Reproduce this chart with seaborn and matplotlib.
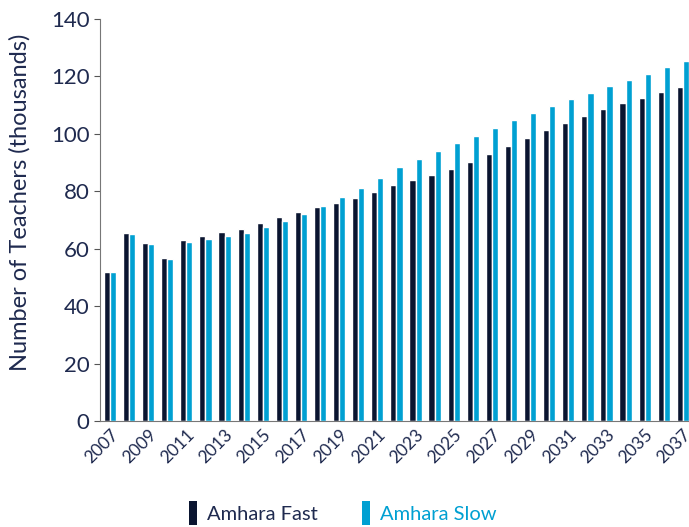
import matplotlib
matplotlib.use("Agg")
import matplotlib.pyplot as plt
import seaborn as sns
import pandas as pd
from matplotlib.patches import Patch

years = list(range(2007, 2038))
amhara_fast = [52.0, 65.4, 62.0, 56.8, 63.2, 64.4, 65.7, 66.9, 69.0, 71.1,
               72.8, 74.4, 75.9, 77.8, 79.9, 82.2, 83.8, 85.5, 87.7, 90.2,
               93.1, 95.9, 98.6, 101.4, 103.8, 106.2, 108.6, 110.7, 112.6, 114.6,
               116.3]
amhara_slow = [52.0, 65.1, 61.8, 56.3, 62.3, 63.5, 64.4, 65.4, 67.6, 69.8,
               72.1, 74.9, 77.9, 81.0, 84.6, 88.4, 91.2, 94.0, 96.7, 99.4,
               102.1, 104.7, 107.2, 109.7, 112.0, 114.4, 116.8, 118.9, 121.0, 123.3,
               125.4]
series_names = ["Amhara Fast", "Amhara Slow"]
colors = {"Amhara Fast": "#0a1530", "Amhara Slow": "#00a0d2"}
text_color = "#1f2a4f"

df = pd.DataFrame({
    "year": [str(y) for y in years] * 2,
    "teachers": amhara_fast + amhara_slow,
    "series": [series_names[0]] * len(years) + [series_names[1]] * len(years),
})

sns.set_style("ticks")
plt.rcParams["font.family"] = ["Lato", "DejaVu Sans"]

fig = plt.figure(figsize=(6.89, 5.27), dpi=100)
ax = fig.add_axes([100 / 689, 1 - 421 / 527, 1 - 100 / 689, (421 - 19) / 527])

sns.barplot(data=df, x="year", y="teachers", hue="series", palette=colors,
            width=0.64, gap=0, ax=ax, legend=False, saturation=1)

ax.set_ylim(0, 140)
ax.set_xlim(-0.52, 30.32)
ax.set_yticks(range(0, 141, 20))
ax.tick_params(axis="y", labelsize=16, colors="#555555", labelcolor=text_color, length=4)
ax.set_xticks(range(0, len(years), 2))
ax.set_xticklabels([str(y) for y in years[::2]], rotation=45, ha="right",
                   rotation_mode="anchor", fontsize=12.5, color=text_color)
ax.tick_params(axis="x", length=0, pad=4)
ax.set_xlabel("")
ax.set_ylabel("Number of Teachers (thousands)", fontsize=17, color=text_color)
ax.yaxis.set_label_coords(-0.118, 0.545)
for side in ["top", "right"]:
    ax.spines[side].set_visible(False)
for side in ["left", "bottom"]:
    ax.spines[side].set_color("#777777")
    ax.spines[side].set_linewidth(0.8)

handles = [Patch(facecolor=colors[n], edgecolor="none") for n in series_names]
leg = fig.legend(handles, series_names, loc="lower center", bbox_to_anchor=(0.497, -0.03),
                 ncol=2, frameon=False, fontsize=14.5, handlelength=0.4, handleheight=1.4,
                 handletextpad=0.5, columnspacing=2.2)
for txt, n in zip(leg.get_texts(), series_names):
    txt.set_color(colors[n] if n == "Amhara Slow" else text_color)

fig.savefig("out.png", dpi=100)
